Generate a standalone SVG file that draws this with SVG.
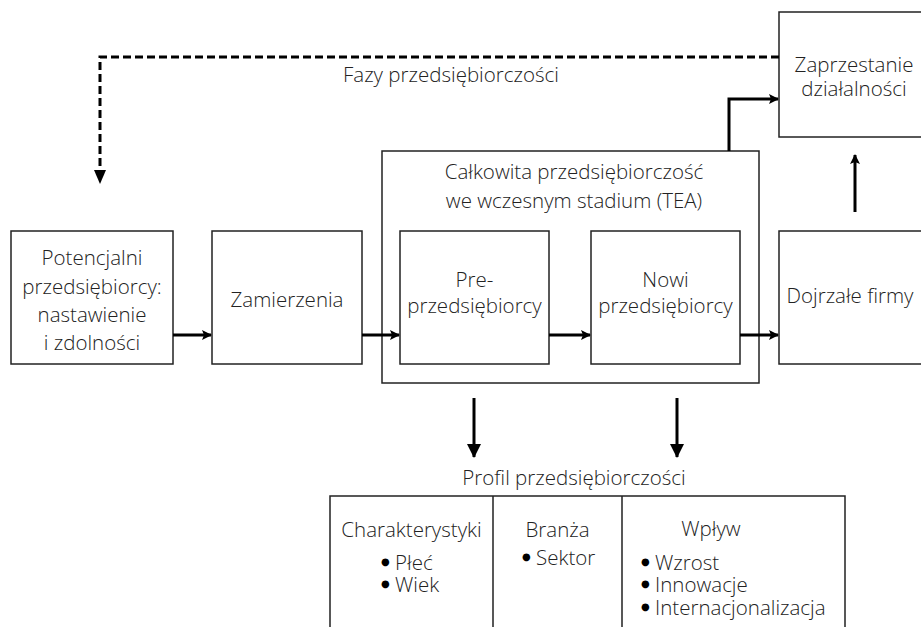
<svg xmlns="http://www.w3.org/2000/svg" width="921" height="627" viewBox="0 0 921 627">
<defs>
<style>
.box{fill:#fff;stroke:#222;stroke-width:1.5}
.t{font-family:"Open Sans","Liberation Sans",sans-serif;font-weight:300;font-size:20.5px;fill:#222}
.c{text-anchor:middle}
.b{font-family:"DejaVu Sans",sans-serif;font-size:10px;font-weight:400;fill:#000}
.ln{fill:none;stroke:#000;stroke-width:3}
.dash{fill:none;stroke:#000;stroke-width:3;stroke-dasharray:8 4}
</style>
<marker id="ah" markerWidth="10" markerHeight="10" refX="9" refY="5" orient="auto" markerUnits="userSpaceOnUse">
<path d="M0,0 L10,5 L0,10 L2,5 z" fill="#000"/>
</marker>
<marker id="ah2" markerWidth="14" markerHeight="14" refX="13" refY="7" orient="auto" markerUnits="userSpaceOnUse">
<path d="M0,0 L14,7 L0,14 z" fill="#000"/>
</marker>
</defs>

<g id="tea">
<rect class="box" x="382" y="151" width="377" height="232"/>
<text class="t c" x="574" y="179">Całkowita przedsiębiorczość</text>
<text class="t c" x="574" y="208">we wczesnym stadium (TEA)</text>
</g>

<g id="potencjalni">
<rect class="box" x="11" y="231" width="162" height="133"/>
<text class="t c" x="92" y="265">Potencjalni</text>
<text class="t c" x="92" y="294">przedsiębiorcy:</text>
<text class="t c" x="92" y="322">nastawienie</text>
<text class="t c" x="92" y="350">i zdolności</text>
</g>

<g id="zamierzenia">
<rect class="box" x="212" y="231" width="150" height="133"/>
<text class="t c" x="287" y="307">Zamierzenia</text>
</g>

<g id="pre">
<rect class="box" x="400" y="231" width="149" height="133"/>
<text class="t c" x="474.5" y="287">Pre-</text>
<text class="t c" x="474.5" y="313">przedsiębiorcy</text>
</g>

<g id="nowi">
<rect class="box" x="591" y="231" width="149" height="133"/>
<text class="t c" x="665.5" y="287">Nowi</text>
<text class="t c" x="665.5" y="313">przedsiębiorcy</text>
</g>

<g id="dojrzale">
<rect class="box" x="779" y="231" width="160" height="133"/>
<text class="t c" x="850" y="303">Dojrzałe firmy</text>
</g>

<g id="zaprzestanie">
<rect class="box" x="779" y="12" width="160" height="125"/>
<text class="t c" x="854" y="72">Zaprzestanie</text>
<text class="t c" x="854" y="96">działalności</text>
</g>

<g id="fazy-label">
<text class="t" x="343" y="82">Fazy przedsiębiorczości</text>
</g>

<g id="profil">
<text class="t c" x="574" y="485">Profil przedsiębiorczości</text>
<path class="box" d="M330,640 V496 H845 V640 M493,496 V640 M622,496 V640"/>
<text class="t c" x="411.5" y="537">Charakterystyki</text>
<text class="t" x="381" y="570"><tspan class="b" dy="-5">●</tspan><tspan dy="5"> Płeć</tspan></text>
<text class="t" x="381" y="592"><tspan class="b" dy="-5">●</tspan><tspan dy="5"> Wiek</tspan></text>
<text class="t c" x="557.5" y="537">Branża</text>
<text class="t" x="522" y="565"><tspan class="b" dy="-5">●</tspan><tspan dy="5"> Sektor</tspan></text>
<text class="t c" x="711" y="536">Wpływ</text>
<text class="t" x="641" y="570"><tspan class="b" dy="-5">●</tspan><tspan dy="5"> Wzrost</tspan></text>
<text class="t" x="641" y="592"><tspan class="b" dy="-5">●</tspan><tspan dy="5"> Innowacje</tspan></text>
<text class="t" x="641" y="615"><tspan class="b" dy="-5">●</tspan><tspan dy="5"> Internacjonalizacja</tspan></text>
</g>

<g id="connectors">
<path class="dash" d="M779,57 H100 V172"/>
<path d="M94,170 L106,170 L100,184 z" fill="#000"/>
<line class="ln" x1="173" y1="335" x2="211" y2="335" marker-end="url(#ah)"/>
<line class="ln" x1="362" y1="335" x2="399" y2="335" marker-end="url(#ah)"/>
<line class="ln" x1="549" y1="335" x2="590" y2="335" marker-end="url(#ah)"/>
<line class="ln" x1="740" y1="335" x2="778" y2="335" marker-end="url(#ah)"/>
<path class="ln" d="M729,151 V99 H778" marker-end="url(#ah)"/>
<line class="ln" x1="855" y1="212" x2="855" y2="155" marker-end="url(#ah)"/>
<line class="ln" x1="474" y1="398" x2="474" y2="457" marker-end="url(#ah2)"/>
<line class="ln" x1="677" y1="398" x2="677" y2="457" marker-end="url(#ah2)"/>
</g>
</svg>
